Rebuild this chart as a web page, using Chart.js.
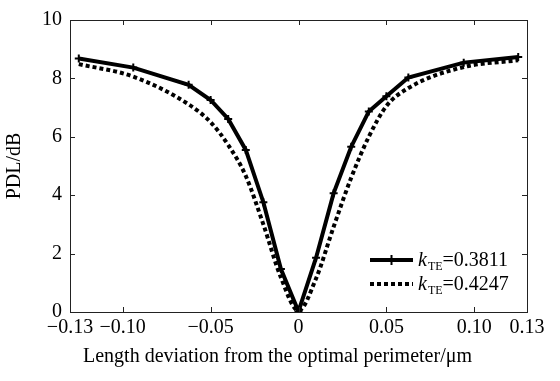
<!DOCTYPE html>
<html>
<head>
<meta charset="utf-8">
<script src="https://cdn.jsdelivr.net/npm/chart.js@4"></script>
<style>
    body { margin: 0; background: #fff; }
</style>
</head>
<body>
<canvas id="pdl-chart" width="560" height="381"></canvas>
<script>
// Length deviation from the optimal perimeter (um), shared by both curves
let deviation = [-0.125, -0.094, -0.0625, -0.05, -0.04, -0.03, -0.02, -0.01, 0,
    0.01, 0.02, 0.03, 0.04, 0.05, 0.0625, 0.094, 0.125]
// PDL in dB for kTE = 0.3811 (solid) and kTE = 0.4247 (dotted)
let pdlSolid = [8.68, 8.37, 7.78, 7.26, 6.61, 5.55, 3.76, 1.47, 0.02,
    1.86, 4.07, 5.66, 6.87, 7.39, 8.03, 8.54, 8.73]
let pdlDotted = [8.49, 8.06, 7.11, 6.5, 5.72, 4.66, 3.0, 1.18, 0.05,
    1.15, 2.92, 4.6, 6.0, 7.05, 7.67, 8.39, 8.62]
let seriesValues = ['0.3811', '0.4247']
let xTicks = [-0.13, -0.10, -0.05, 0, 0.05, 0.10, 0.13]
let yTicks = [0, 2, 4, 6, 8, 10]

let serif = 'Liberation Serif'

function toPoints(ys) {
    return ys.map(function (y, i) { return {x: deviation[i], y: y} })
}

// x labels: 0 stays plain, the rest get two decimals and a real minus sign
function formatX(v) {
    if (Math.abs(v) < 1e-9) return '0'
    return (v < 0 ? '\u2212' : '') + Math.abs(v).toFixed(2)
}

// Box round the plot with small inward ticks on all four sides
let framePlugin = {
    id: 'frame',
    afterDatasetsDraw: function (chart) {
        let ctx = chart.ctx
        let area = chart.chartArea
        let xs = chart.scales.x
        let ys = chart.scales.y
        ctx.save()
        ctx.strokeStyle = '#222'
        ctx.lineWidth = 1
        ctx.strokeRect(area.left + 0.5, area.top + 0.5, area.right - area.left, area.bottom - area.top)
        ctx.beginPath()
        xTicks.forEach(function (v) {
            let px = Math.round(xs.getPixelForValue(v)) + 0.5
            ctx.moveTo(px, area.bottom); ctx.lineTo(px, area.bottom - 5)
            ctx.moveTo(px, area.top); ctx.lineTo(px, area.top + 5)
        })
        yTicks.forEach(function (v) {
            let py = Math.round(ys.getPixelForValue(v)) + 0.5
            ctx.moveTo(area.left, py); ctx.lineTo(area.left + 5, py)
            ctx.moveTo(area.right, py); ctx.lineTo(area.right - 5, py)
        })
        ctx.stroke()
        ctx.restore()
    }
}

// Legend in the lower right corner, k in italics with subscript TE
let legendPlugin = {
    id: 'kteLegend',
    afterDraw: function (chart) {
        let ctx = chart.ctx
        let area = chart.chartArea
        let rows = [area.bottom - 52, area.bottom - 28]
        ctx.save()
        chart.data.datasets.forEach(function (ds, i) {
            let y = rows[i]
            let x0 = area.right - 157
            ctx.strokeStyle = '#000'
            ctx.lineWidth = ds.borderWidth
            ctx.setLineDash(ds.borderDash || [])
            ctx.beginPath()
            ctx.moveTo(x0, y); ctx.lineTo(x0 + 43, y)
            ctx.stroke()
            ctx.setLineDash([])
            if (ds.pointRadius > 0) {
                ctx.lineWidth = 2
                ctx.beginPath()
                ctx.moveTo(x0 + 21.5, y - 5); ctx.lineTo(x0 + 21.5, y + 5)
                ctx.stroke()
            }
            let tx = x0 + 48
            let base = y + 6
            ctx.fillStyle = '#000'
            ctx.textBaseline = 'alphabetic'
            ctx.textAlign = 'left'
            ctx.font = 'italic 20px "' + serif + '"'
            ctx.fillText('k', tx, base)
            tx += ctx.measureText('k').width + 1
            ctx.font = '12px "' + serif + '"'
            ctx.fillText('TE', tx, base + 4)
            tx += ctx.measureText('TE').width
            ctx.font = '20px "' + serif + '"'
            ctx.fillText('=' + seriesValues[i], tx, base)
        })
        ctx.restore()
    }
}

let cxt = document.querySelector('#pdl-chart').getContext('2d')

let chart = new Chart(cxt, {
    type: 'line',
    data: {
        datasets: [
            {
                label: 'kTE=' + seriesValues[0],
                data: toPoints(pdlSolid),
                borderColor: '#000',
                backgroundColor: '#000',
                borderWidth: 4,
                pointStyle: 'cross',
                pointRadius: 4,
                pointBorderWidth: 2,
                tension: 0
            },
            {
                label: 'kTE=' + seriesValues[1],
                data: toPoints(pdlDotted),
                borderColor: '#000',
                borderWidth: 4,
                borderDash: [4, 3],
                borderCapStyle: 'butt',
                pointRadius: 0,
                cubicInterpolationMode: 'monotone'
            }
        ]
    },
    options: {
        responsive: false,
        animation: false,
        // left padding 28 keeps the bottom caption centred near x=277
        layout: {padding: {left: 28, top: 14, right: 33, bottom: 0}},
        plugins: {
            legend: {display: false},
            tooltip: {enabled: false},
            title: {
                display: true,
                position: 'bottom',
                text: 'Length deviation from the optimal perimeter/\u03bcm',
                color: '#000',
                font: {family: serif, size: 20, weight: 'normal'},
                padding: {top: 4, bottom: 12}
            }
        },
        scales: {
            x: {
                type: 'linear',
                min: -0.13,
                max: 0.13,
                afterBuildTicks: function (scale) {
                    scale.ticks = xTicks.map(function (v) { return {value: v} })
                },
                afterFit: function (scale) { scale.height = 29 },
                grid: {display: false, drawTicks: false},
                border: {display: false},
                ticks: {
                    autoSkip: false,
                    maxRotation: 0,
                    padding: 4,
                    color: '#000',
                    font: {family: serif, size: 20},
                    callback: formatX
                }
            },
            y: {
                min: 0,
                max: 10,
                afterBuildTicks: function (scale) {
                    scale.ticks = yTicks.map(function (v) { return {value: v} })
                },
                afterFit: function (scale) { scale.width = 42 },
                grid: {display: false, drawTicks: false},
                border: {display: false},
                ticks: {
                    padding: 8,
                    color: '#000',
                    font: {family: serif, size: 20},
                    callback: function (v) { return String(v) }
                },
                title: {
                    display: true,
                    text: 'PDL/dB',
                    color: '#000',
                    font: {family: serif, size: 20},
                    padding: {top: -25, bottom: 0}
                }
            }
        }
    },
    plugins: [framePlugin, legendPlugin]
})
</script>
</body>
</html>
